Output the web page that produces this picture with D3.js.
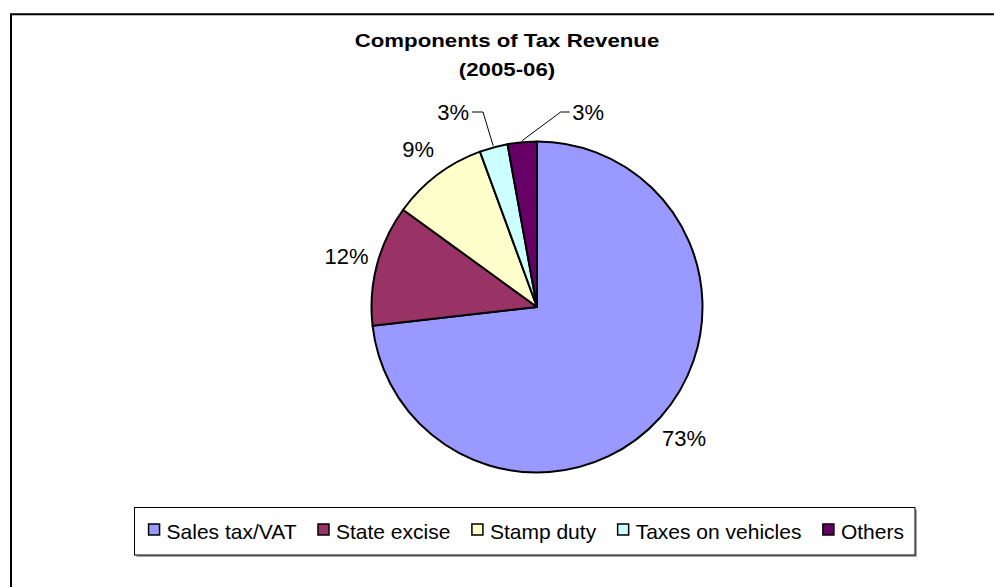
<!DOCTYPE html>
<html>
<head>
<meta charset="utf-8">
<script src="https://cdn.jsdelivr.net/npm/d3@7"></script>
<style>
  html, body { margin: 0; padding: 0; background: #fff; overflow: hidden; }
  svg { display: block; font-family: "Liberation Sans", Arial, sans-serif; }
</style>
</head>
<body>
<div id="chart"></div>
<script>
// chart data
var titleLines = ["Components of Tax Revenue", "(2005-06)"];
var categories = ["Sales tax/VAT", "State excise", "Stamp duty", "Taxes on vehicles", "Others"];
var shares = [73.2, 11.8, 9.4, 2.75, 2.85];
var colours = ["#9999ff", "#993366", "#ffffcc", "#ccffff", "#660066"];

var W = 994, H = 587;
var cx = 537, cy = 307, R = 165.5;

var svg = d3.select("#chart").append("svg")
  .attr("width", W)
  .attr("height", H);

// outer frame (runs off the right and bottom edge)
svg.append("path")
  .attr("d", "M11,700V14.3H1200")
  .attr("fill", "none")
  .attr("stroke", "#000")
  .attr("stroke-width", 2);

// title
var title = svg.append("g")
  .attr("transform", "translate(507,0) scale(1.27,1)");
title.selectAll("text")
  .data(titleLines)
  .enter().append("text")
  .attr("x", 0)
  .attr("y", function(d, i) { return 47.5 + i * 29; })
  .attr("text-anchor", "middle")
  .attr("font-size", 17.5)
  .attr("font-weight", "bold")
  .text(function(d) { return d; });

// pie
var data = categories.map(function(c, i) { return {name: c, value: shares[i], colour: colours[i]}; });
var pie = d3.pie().sort(null).value(function(d) { return d.value; });
var arcs = pie(data);
var arc = d3.arc().innerRadius(0).outerRadius(R);

var g = svg.append("g").attr("transform", "translate(" + cx + "," + cy + ")");
g.selectAll("path.slice")
  .data(arcs)
  .enter().append("path")
  .attr("class", "slice")
  .attr("d", arc)
  .attr("fill", function(d) { return d.data.colour; })
  .attr("stroke", "#000")
  .attr("stroke-width", 2)
  .attr("stroke-linejoin", "round");

// labels
var labelArc = d3.arc().innerRadius(197).outerRadius(197);
var edgeArc = d3.arc().innerRadius(R + 1.5).outerRadius(R + 1.5);
var fs = 22;
var pct = function(d) { return Math.round(d.data.value) + "%"; };

arcs.forEach(function(d, i) {
  if (d.data.value >= 5) {
    var p = labelArc.centroid(d);
    g.append("text")
      .attr("x", p[0])
      .attr("y", p[1] + 7.5)
      .attr("text-anchor", "middle")
      .attr("font-size", fs)
      .text(pct(d));
  } else {
    // small slices: label pulled out to the side with a leader line
    var left = i === 3;
    var a = edgeArc.centroid(d);
    var ey = -195;
    var ex = left ? -54 : 23.7;
    var tx = left ? -65 : 32.7;
    g.append("polyline")
      .attr("points", [a, [ex, ey], [tx, ey]].map(function(q) { return q.join(","); }).join(" "))
      .attr("fill", "none")
      .attr("stroke", "#000")
      .attr("stroke-width", 1);
    g.append("text")
      .attr("x", left ? tx - 3 : tx + 2.5)
      .attr("y", ey + 7.5)
      .attr("text-anchor", left ? "end" : "start")
      .attr("font-size", fs)
      .text(pct(d));
  }
});

// legend
var lx = 134.5, ly = 507.5, lw = 780.5, lh = 47.5;
svg.append("path")
  .attr("d", "M" + (lx + 2) + "," + (ly + lh + 1) + "H" + (lx + lw + 1) + "V" + (ly + 2))
  .attr("fill", "none")
  .attr("stroke", "#888")
  .attr("stroke-width", 1.5);
svg.append("rect")
  .attr("x", lx).attr("y", ly)
  .attr("width", lw).attr("height", lh)
  .attr("fill", "#fff")
  .attr("stroke", "#000")
  .attr("stroke-width", 1);

var legend = svg.append("g");
var items = legend.selectAll("g.item")
  .data(data)
  .enter().append("g")
  .attr("class", "item");
items.append("rect")
  .attr("width", 11).attr("height", 11)
  .attr("y", -14.5)
  .attr("fill", function(d) { return d.colour; })
  .attr("stroke", "#000")
  .attr("stroke-width", 1.5);
items.append("text")
  .attr("x", 18)
  .attr("font-size", 21)
  .text(function(d) { return d.name; });

var xs = [], acc = 0;
items.each(function() {
  var w = 18 + d3.select(this).select("text").node().getComputedTextLength();
  xs.push(acc);
  acc += w + 21.5;
});
var total = acc - 21.5;
var startX = lx + lw / 2 - total / 2 + 1.5;
items.attr("transform", function(d, i) { return "translate(" + (startX + xs[i]) + "," + 538.5 + ")"; });
</script>
</body>
</html>
